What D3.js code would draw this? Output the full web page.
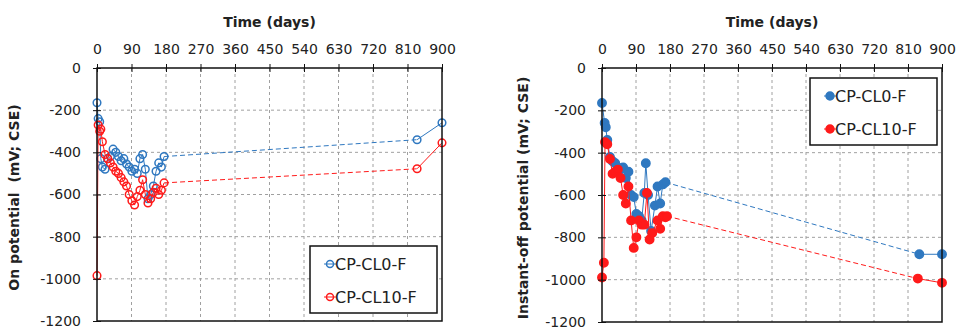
<!DOCTYPE html>
<html lang="en">
<head>
<meta charset="UTF-8">
<title>On / instant-off potential</title>
<style>
  body { margin: 0; background: #fff; }
  svg text { font-family: "DejaVu Sans", sans-serif; fill: #222; }
</style>
</head>
<body>
<div id="chart"></div>
<script src="https://d3js.org/d3.v7.min.js"></script>
<script>
// series names and axis ticks
const seriesNames = ["CP-CL0-F", "CP-CL10-F"];
const xTicks = [0, 90, 180, 270, 360, 450, 540, 630, 720, 810, 900];
const yTicks = [0, -200, -400, -600, -800, -1000, -1200];

// left panel: on potential (mV; CSE)
const onDaysCL0 = [0, 3, 7, 10, 14, 21, 28, 35, 42, 49, 56, 63, 70, 77, 84, 91, 98, 105, 112, 119, 126, 133, 140, 147, 154, 161, 168, 175, 835, 900];
const onCL0 = [-165, -240, -255, -430, -470, -480, -430, -420, -385, -400, -420, -440, -430, -455, -470, -490, -480, -500, -430, -410, -480, -620, -600, -560, -490, -450, -470, -420, -340, -260];
const onDaysCL10 = [0, 3, 7, 10, 14, 21, 28, 35, 42, 49, 56, 63, 70, 77, 84, 91, 98, 105, 112, 119, 126, 133, 140, 147, 154, 161, 168, 175, 835, 900];
const onCL10 = [-985, -270, -300, -290, -350, -410, -430, -450, -470, -490, -500, -520, -540, -560, -600, -630, -650, -610, -580, -530, -600, -640, -620, -590, -570, -600, -580, -545, -478, -355];

// right panel: instant-off potential (mV; CSE)
const offDaysCL0 = [0, 7, 10, 14, 21, 28, 35, 42, 49, 56, 63, 70, 77, 84, 91, 98, 105, 112, 116, 122, 130, 140, 147, 154, 161, 168, 840, 900];
const offCL0 = [-165, -260, -280, -340, -420, -440, -450, -470, -480, -470, -520, -490, -600, -610, -690, -700, -720, -590, -450, -600, -770, -650, -560, -640, -550, -540, -880, -880];
const offDaysCL10 = [0, 5, 8, 14, 21, 28, 35, 42, 49, 56, 63, 70, 77, 84, 91, 98, 105, 112, 119, 126, 133, 147, 154, 161, 168, 172, 836, 900];
const offCL10 = [-990, -920, -350, -360, -430, -500, -490, -480, -520, -600, -640, -560, -720, -850, -800, -720, -740, -740, -590, -810, -780, -720, -760, -700, -705, -700, -995, -1015];

const colors = ["#2f78c0", "#ff1a1a"];

const svg = d3.select("#chart").append("svg")
    .attr("width", 959)
    .attr("height", 329);

function drawPanel(p) {
    const x = d3.scaleLinear().domain([0, 900]).range([p.left, p.right]);
    const y = d3.scaleLinear().domain([-1200, 0]).range([p.bottom, p.top]);
    const g = svg.append("g");

    // dashed grid
    g.selectAll(".vgrid").data(xTicks.slice(1, -1)).enter().append("line")
        .attr("x1", d => x(d)).attr("x2", d => x(d))
        .attr("y1", p.top).attr("y2", p.bottom)
        .attr("stroke", "#a0a0a0").attr("stroke-width", 1).attr("stroke-dasharray", "3,3");
    g.selectAll(".hgrid").data(yTicks.slice(1, -1)).enter().append("line")
        .attr("x1", p.left).attr("x2", p.right)
        .attr("y1", d => y(d)).attr("y2", d => y(d))
        .attr("stroke", "#a0a0a0").attr("stroke-width", 1).attr("stroke-dasharray", "3,3");

    // series
    p.series.forEach((s, i) => {
        const pts = s.days.map((d, k) => ({ day: d, v: s.values[k] }));
        const segs = d3.pairs(pts);
        g.selectAll(null).data(segs).enter().append("line")
            .attr("x1", d => x(d[0].day)).attr("y1", d => y(d[0].v))
            .attr("x2", d => x(d[1].day)).attr("y2", d => y(d[1].v))
            .attr("stroke", colors[i]).attr("stroke-width", 1)
            .attr("stroke-dasharray", d => (d[1].day - d[0].day > 100 ? "5,3" : null));
        g.selectAll(null).data(pts).enter().append("circle")
            .attr("cx", d => x(d.day)).attr("cy", d => y(d.v))
            .attr("r", p.filled ? 4.2 : 3.8)
            .attr("fill", p.filled ? colors[i] : "none")
            .attr("stroke", colors[i]).attr("stroke-width", 1.5);
    });

    // frame
    g.append("rect")
        .attr("x", p.left).attr("y", p.top)
        .attr("width", p.right - p.left).attr("height", p.bottom - p.top)
        .attr("fill", "none").attr("stroke", "#111").attr("stroke-width", 1.5);

    // top axis
    const xa = g.append("g").attr("transform", `translate(0,${p.top})`)
        .call(d3.axisTop(x).tickValues(xTicks).tickSize(4).tickPadding(10).tickFormat(d => String(d)));
    xa.select(".domain").remove();
    xa.selectAll(".tick line").attr("y1", 4).attr("stroke", "#111");
    xa.selectAll(".tick text").attr("font-size", 14).attr("font-family", "DejaVu Sans").attr("fill", "#222");

    // left axis
    const ya = g.append("g").attr("transform", `translate(${p.left},0)`)
        .call(d3.axisLeft(y).tickValues(yTicks).tickSize(4).tickPadding(12).tickFormat(d => String(d)));
    ya.select(".domain").remove();
    ya.selectAll(".tick line").attr("x1", 4).attr("stroke", "#111");
    ya.selectAll(".tick text").attr("font-size", 14).attr("font-family", "DejaVu Sans").attr("fill", "#222");

    // titles
    g.append("text")
        .attr("x", (p.left + p.right) / 2).attr("y", 27)
        .attr("text-anchor", "middle").attr("font-weight", "bold").attr("font-size", 14)
        .text("Time (days)");
    g.append("text")
        .attr("transform", `translate(${p.ylabelX},${(p.top + p.bottom) / 2 + 3}) rotate(-90)`)
        .attr("text-anchor", "middle").attr("font-weight", "bold").attr("font-size", 14)
        .attr("xml:space", "preserve")
        .text(p.ylabel);

    // legend
    const lg = g.append("g").attr("transform", `translate(${p.legend[0]},${p.legend[1]})`);
    lg.append("rect").attr("width", 127).attr("height", 67)
        .attr("fill", "#fff").attr("stroke", "#111").attr("stroke-width", 1.5);
    seriesNames.forEach((name, i) => {
        const cy = 18 + i * 33;
        lg.append("line").attr("x1", 14).attr("x2", 26).attr("y1", cy).attr("y2", cy)
            .attr("stroke", colors[i]).attr("stroke-width", 1);
        lg.append("circle").attr("cx", 20).attr("cy", cy).attr("r", p.filled ? 4 : 3.5)
            .attr("fill", p.filled ? colors[i] : "none")
            .attr("stroke", colors[i]).attr("stroke-width", 1.5);
        lg.append("text").attr("x", 25).attr("y", cy + 6)
            .attr("font-size", 16).text(name);
    });
}

drawPanel({
    left: 97, right: 442, top: 68, bottom: 321,
    ylabel: "On potential  (mV; CSE)", ylabelX: 19,
    legend: [310, 246], filled: false,
    series: [
        { days: onDaysCL0, values: onCL0 },
        { days: onDaysCL10, values: onCL10 }
    ]
});

drawPanel({
    left: 602, right: 942, top: 68, bottom: 322,
    ylabel: "Instant-off potential (mV; CSE)", ylabelX: 528,
    legend: [810, 78], filled: true,
    series: [
        { days: offDaysCL0, values: offCL0 },
        { days: offDaysCL10, values: offCL10 }
    ]
});
</script>
</body>
</html>
